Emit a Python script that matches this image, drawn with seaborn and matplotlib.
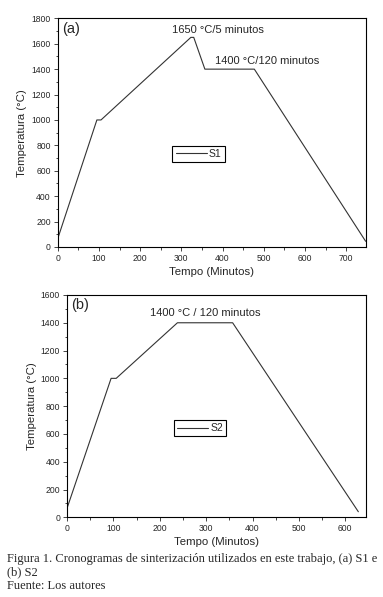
import pandas as pd
import matplotlib.pyplot as plt
import seaborn as sns

# cronograma S1 (tiempo en minutos, temperatura en °C)
s1_tiempo = [0, 95, 105, 323, 330, 357, 477, 747]
s1_temp = [65, 1000, 1000, 1650, 1650, 1400, 1400, 45]

# cronograma S2
s2_tiempo = [0, 95, 106, 238, 357, 628]
s2_temp = [65, 1000, 1000, 1400, 1400, 40]

sns.set_style("ticks")
plt.rcParams['font.family'] = ['Liberation Sans', 'DejaVu Sans']

fig = plt.figure(figsize=(3.83, 5.97), dpi=100)
ax_a = fig.add_axes([0.1507, 0.5863, 0.805, 0.383])
ax_b = fig.add_axes([0.175, 0.1335, 0.78, 0.3724])

df1 = pd.DataFrame({'Tempo': s1_tiempo, 'Temp': s1_temp, 'serie': 'S1'})
df2 = pd.DataFrame({'Tempo': s2_tiempo, 'Temp': s2_temp, 'serie': 'S2'})


def estilo(ax, df, xmax, ymax, letra, leg_pos):
    sns.lineplot(data=df, x='Tempo', y='Temp', hue='serie', palette=['#333333'],
                 linewidth=0.8, sort=False, estimator=None, ax=ax)
    ax.set_xlim(0, xmax)
    ax.set_ylim(0, ymax)
    ax.set_xlabel('Tempo (Minutos)', fontsize=8.2, labelpad=3)
    ax.set_ylabel('Temperatura (°C)', fontsize=8.2, labelpad=3)
    ax.xaxis.set_major_locator(plt.MultipleLocator(100))
    ax.xaxis.set_minor_locator(plt.MultipleLocator(50))
    ax.yaxis.set_major_locator(plt.MultipleLocator(200))
    ax.yaxis.set_minor_locator(plt.MultipleLocator(100))
    ax.tick_params(which='major', length=3, width=0.6, labelsize=6.2, pad=2)
    ax.tick_params(which='minor', length=1.8, width=0.6)
    for s in ax.spines.values():
        s.set_visible(True)
        s.set_linewidth(0.8)
        s.set_color('black')
    ax.text(0.015, 0.985, letra, transform=ax.transAxes, fontsize=10.5,
            va='top', ha='left')
    leg = ax.legend(loc='center', bbox_to_anchor=leg_pos, fontsize=7.5,
                    fancybox=False, framealpha=1, edgecolor='black',
                    handlelength=3, borderpad=0.3, handletextpad=0.2,
                    borderaxespad=0)
    leg.get_frame().set_linewidth(0.8)


estilo(ax_a, df1, 748, 1800, '(a)', (0.457, 0.407))
ax_a.text(389, 1708, '1650 °C/5 minutos', fontsize=8, ha='center', va='center')
ax_a.text(508, 1464, '1400 °C/120 minutos', fontsize=8, ha='center', va='center')

estilo(ax_b, df2, 644, 1600, '(b)', (0.445, 0.40))
ax_b.text(298, 1467, '1400 °C / 120 minutos', fontsize=8, ha='center', va='center')

cap = ['Liberation Serif', 'DejaVu Serif']
fig.text(0.018, 1 - 559 / 597, 'Figura 1. Cronogramas de sinterización utilizados en este trabajo, (a) S1 e',
         fontsize=9.0, family=cap, va='center', ha='left')
fig.text(0.018, 1 - 572 / 597, '(b) S2', fontsize=9.0, family=cap, va='center', ha='left')
fig.text(0.018, 1 - 586 / 597, 'Fuente: Los autores', fontsize=9.0, family=cap, va='center', ha='left')

fig.savefig('out.png', dpi=100)
